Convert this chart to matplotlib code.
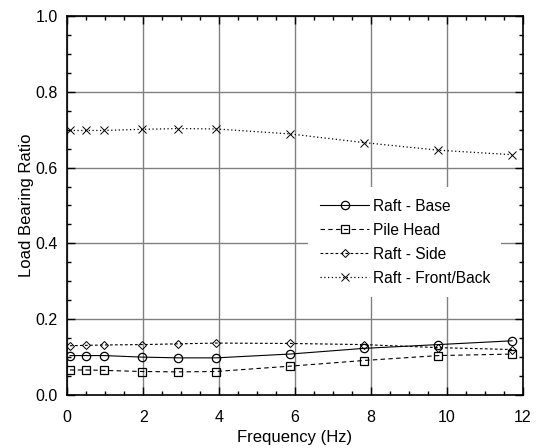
import matplotlib
matplotlib.use('Agg')
import matplotlib.pyplot as plt
from matplotlib.ticker import MultipleLocator, FormatStrFormatter

plt.rcParams['font.family'] = ['Liberation Sans', 'DejaVu Sans']

# frequencies (Hz)
freq = [0.07, 0.5, 0.98, 1.96, 2.93, 3.91, 5.86, 7.81, 9.77, 11.72]

raft_base = [0.104, 0.104, 0.104, 0.100, 0.098, 0.098, 0.108, 0.123, 0.133, 0.143]
pile_head = [0.066, 0.066, 0.065, 0.062, 0.061, 0.062, 0.076, 0.091, 0.104, 0.108]
raft_side = [0.130, 0.131, 0.132, 0.133, 0.135, 0.137, 0.136, 0.133, 0.125, 0.120]
raft_front_back = [0.698, 0.698, 0.698, 0.701, 0.703, 0.702, 0.689, 0.666, 0.646, 0.634]

series_names = ['Raft - Base', 'Pile Head', 'Raft - Side', 'Raft - Front/Back']

fig = plt.figure(figsize=(5.41, 4.48), dpi=100)
ax = fig.add_axes([0.1244, 0.1183, 0.8418, 0.846])

ax.plot(freq, raft_base, color='black', lw=0.8, ls='-', marker='o', ms=6,
        mfc='none', mec='black', mew=0.9, label=series_names[0])
ax.plot(freq, pile_head, color='black', lw=0.8, ls=(0, (4, 3)), marker='s', ms=6,
        mfc='none', mec='black', mew=0.9, label=series_names[1])
ax.plot(freq, raft_side, color='black', lw=0.8, ls=(0, (2.5, 2)), marker='D', ms=4,
        mfc='none', mec='black', mew=0.7, label=series_names[2])
ax.plot(freq, raft_front_back, color='black', lw=0.9, ls=(0, (1, 2)), marker='x', ms=6,
        mec='black', mew=0.7, label=series_names[3])

ax.set_xlim(0, 12)
ax.set_ylim(0, 1.0)
ax.xaxis.set_major_locator(MultipleLocator(2))
ax.xaxis.set_minor_locator(MultipleLocator(0.5))
ax.yaxis.set_major_locator(MultipleLocator(0.2))
ax.yaxis.set_minor_locator(MultipleLocator(0.05))
ax.yaxis.set_major_formatter(FormatStrFormatter('%.1f'))
ax.xaxis.set_major_formatter(FormatStrFormatter('%d'))

ax.tick_params(which='both', direction='in', top=True, right=True, labelsize=11.5)
ax.tick_params(which='major', length=6, width=1)
ax.tick_params(which='minor', length=3, width=1)
ax.tick_params(axis='x', which='major', pad=11)
ax.tick_params(axis='y', which='major', pad=7)
ax.grid(True, which='major', color='#808080', lw=1)
ax.set_axisbelow(True)
for s in ax.spines.values():
    s.set_linewidth(1.2)

ax.set_xlabel('Frequency (Hz)', fontsize=12, labelpad=3.5)
ax.set_ylabel('Load Bearing Ratio', fontsize=12, labelpad=1)

leg = ax.legend(loc='upper left', bbox_to_anchor=(0.5285, 0.549), borderaxespad=0,
                frameon=True, fancybox=False, edgecolor='none', facecolor='white',
                framealpha=1, fontsize=11.2, handlelength=3.2, handletextpad=0.2,
                labelspacing=0.58, borderpad=0.75)

fig.savefig('out.png', dpi=100)
